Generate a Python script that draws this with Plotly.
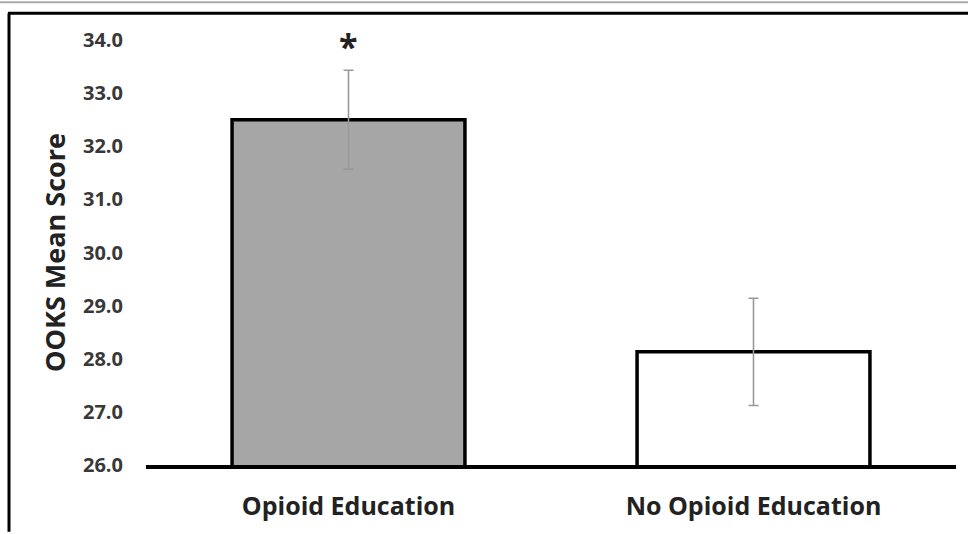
import plotly.graph_objects as go

categories = ["Opioid Education", "No Opioid Education"]
means = [32.5, 28.13]
errors = [0.93, 1.01]
bar_colors = ["#a6a6a6", "#ffffff"]
y_ticks = [26, 27, 28, 29, 30, 31, 32, 33, 34]
y_tick_labels = ["26.0", "27.0", "28.0", "29.0", "30.0", "31.0", "32.0", "33.0", "34.0"]

W, H = 968, 534
L, R, T, B = 146, 12, 40, 67
pw, ph = W - L - R, H - T - B

def px(x):
    return (x - L) / pw

def py(y):
    return (H - B - y) / ph

font_family = "Open Sans, Lato, sans-serif"

fig = go.Figure()
fig.add_trace(go.Bar(
    x=categories, y=means,
    marker=dict(color=bar_colors, line=dict(color="black", width=3.5)),
    width=0.575,
    error_y=dict(type="data", array=errors, visible=True, color="#999999", thickness=1.6, width=5),
    showlegend=False,
))

fig.add_annotation(x=categories[0], y=33.88, text="<b>*</b>", showarrow=False,
                   xref="x", yref="y", yanchor="middle",
                   font=dict(size=34, color="#222222", family=font_family))

shapes = [
    dict(type="line", xref="paper", yref="paper", x0=px(0), x1=px(W), y0=py(2), y1=py(2),
         line=dict(color="#aaaaaa", width=2)),
    dict(type="line", xref="paper", yref="paper", x0=px(8), x1=px(W), y0=py(13), y1=py(13),
         line=dict(color="black", width=3)),
    dict(type="line", xref="paper", yref="paper", x0=px(9), x1=px(9), y0=py(13), y1=py(H),
         line=dict(color="black", width=3)),
]

fig.update_layout(
    width=W, height=H,
    margin=dict(l=L, r=R, t=T, b=B, pad=0),
    paper_bgcolor="white", plot_bgcolor="white",
    shapes=shapes,
    bargap=0.425,
    font=dict(family=font_family, color="#333333"),
    xaxis=dict(
        showline=True, linecolor="black", linewidth=3.5, showgrid=False, zeroline=False,
        ticks="", tickfont=dict(size=25, color="#222222", family=font_family),
        tickvals=categories, ticktext=["<b>" + c + "</b>" for c in categories],
        ticklabelstandoff=16,
    ),
    yaxis=dict(
        range=[26, 34], showline=False, showgrid=False, zeroline=False,
        tickvals=y_ticks, ticktext=["<b>" + t + "</b>" for t in y_tick_labels],
        tickfont=dict(size=20, color="#383838", family=font_family),
        ticks="", ticklabelstandoff=22,
        title=dict(text="<b>OOKS Mean Score</b>", font=dict(size=27, color="#222222", family=font_family),
                   standoff=9),
    ),
)

fig.write_html("out.html", config={"displayModeBar": False},
               post_script="document.body.style.margin='0';document.body.style.padding='0';")
